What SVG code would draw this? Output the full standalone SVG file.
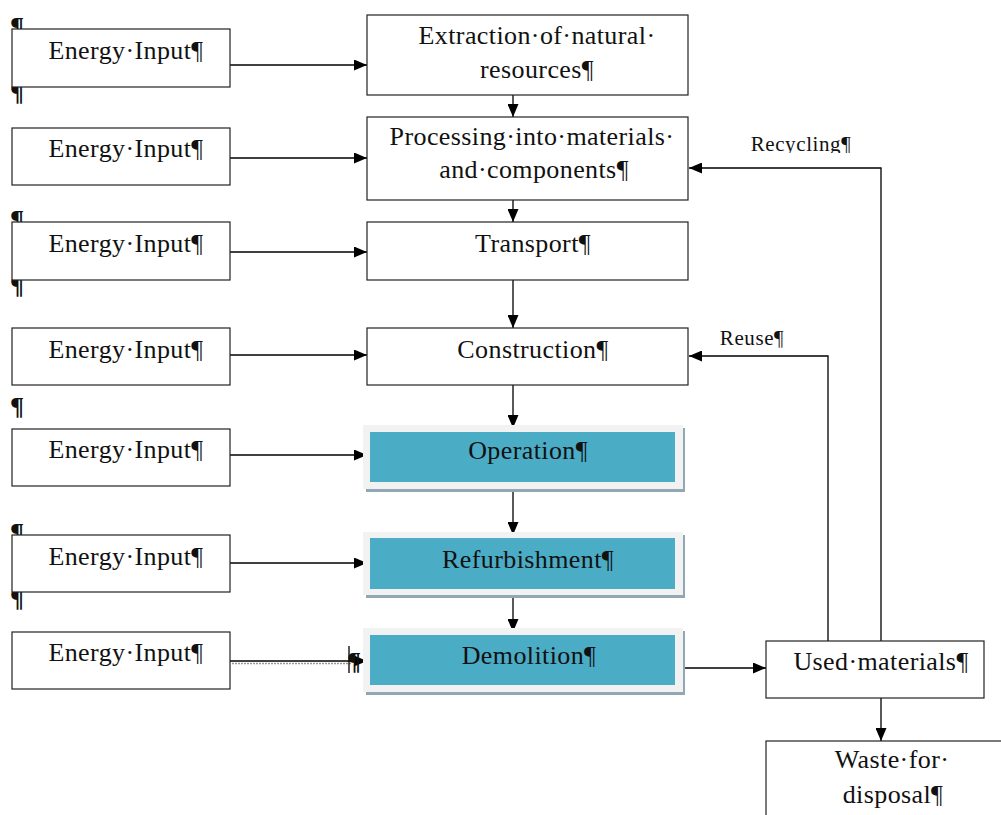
<svg xmlns="http://www.w3.org/2000/svg" width="1001" height="815" viewBox="0 0 1001 815">
  <style>
    .box { fill: #ffffff; stroke: #222222; stroke-width: 1.2; }
    .frame { fill: #f2f2f2; }
    .shadow { fill: #8fa8b3; }
    .teal { fill: #4bacc6; }
    .lbl { font-family: "Liberation Serif", "Times New Roman", serif; font-size: 26px; letter-spacing: 0.4px; fill: #111111; text-anchor: middle; }
    .small { font-family: "Liberation Serif", "Times New Roman", serif; font-size: 21px; letter-spacing: 0.6px; fill: #111111; text-anchor: middle; }
    .pil { font-family: "Liberation Serif", "Times New Roman", serif; font-size: 26px; font-weight: bold; fill: #111111; }
    .wire { fill: none; stroke: #000000; stroke-width: 1.3; }
  </style>
  <defs>
    <marker id="arrow" viewBox="0 0 13 11" refX="13" refY="5.5" markerWidth="13" markerHeight="11" markerUnits="userSpaceOnUse" orient="auto">
      <path d="M0,0 L13,5.5 L0,11 z" fill="#000000"/>
    </marker>
    <clipPath id="clipRecycle">
      <rect x="700" y="120" width="200" height="33"/>
    </clipPath>
  </defs>

  <rect width="1001" height="815" fill="#ffffff"/>

  <!-- stray paragraph marks, partly behind the energy boxes -->
  <g id="marks">
    <text class="pil" x="10" y="35">¶</text>
    <text class="pil" x="10" y="101">¶</text>
    <text class="pil" x="10" y="228">¶</text>
    <text class="pil" x="10" y="294">¶</text>
    <text class="pil" x="10" y="415">¶</text>
    <text class="pil" x="10" y="541">¶</text>
    <text class="pil" x="10" y="607">¶</text>
  </g>

  <!-- connectors -->
  <g id="connectors">
    <!-- energy inputs -->
    <line class="wire" x1="230" y1="65" x2="367" y2="65" marker-end="url(#arrow)"/>
    <line class="wire" x1="230" y1="158" x2="367" y2="158" marker-end="url(#arrow)"/>
    <line class="wire" x1="230" y1="252" x2="367" y2="252" marker-end="url(#arrow)"/>
    <line class="wire" x1="230" y1="355" x2="367" y2="355" marker-end="url(#arrow)"/>
    <line class="wire" x1="230" y1="455" x2="367" y2="455" marker-end="url(#arrow)"/>
    <line class="wire" x1="230" y1="563" x2="367" y2="563" marker-end="url(#arrow)"/>
    <line class="wire" x1="230" y1="661" x2="367" y2="661" marker-end="url(#arrow)"/>
    <line x1="232" y1="663.5" x2="352" y2="663.5" stroke="#9a9a9a" stroke-width="1.5" stroke-dasharray="2 1"/>
    <line x1="349" y1="646" x2="349" y2="673" stroke="#000000" stroke-width="1.3"/>
    <!-- life-cycle chain -->
    <line class="wire" x1="513" y1="95" x2="513" y2="117" marker-end="url(#arrow)"/>
    <line class="wire" x1="513" y1="200" x2="513" y2="222" marker-end="url(#arrow)"/>
    <line class="wire" x1="513" y1="280" x2="513" y2="328" marker-end="url(#arrow)"/>
    <line class="wire" x1="513" y1="385" x2="513" y2="428" marker-end="url(#arrow)"/>
    <line class="wire" x1="513" y1="492" x2="513" y2="535" marker-end="url(#arrow)"/>
    <line class="wire" x1="513" y1="598" x2="513" y2="632" marker-end="url(#arrow)"/>
    <!-- end of life -->
    <line class="wire" x1="680" y1="668" x2="766" y2="668" marker-end="url(#arrow)"/>
    <line class="wire" x1="881" y1="698" x2="881" y2="741" marker-end="url(#arrow)"/>
    <polyline class="wire" points="881,641 881,168 689,168" marker-end="url(#arrow)"/>
    <polyline class="wire" points="828,641 828,356 689,356" marker-end="url(#arrow)"/>
  </g>

  <!-- energy input nodes -->
  <g id="energy1"><rect class="box" x="12" y="29" width="218" height="58"/><text class="lbl" x="126" y="59">Energy·Input¶</text></g>
  <g id="energy2"><rect class="box" x="12" y="128" width="218" height="57"/><text class="lbl" x="126" y="157">Energy·Input¶</text></g>
  <g id="energy3"><rect class="box" x="12" y="222" width="218" height="58"/><text class="lbl" x="126" y="252">Energy·Input¶</text></g>
  <g id="energy4"><rect class="box" x="12" y="328" width="218" height="57"/><text class="lbl" x="126" y="358">Energy·Input¶</text></g>
  <g id="energy5"><rect class="box" x="12" y="429" width="218" height="57"/><text class="lbl" x="126" y="458">Energy·Input¶</text></g>
  <g id="energy6"><rect class="box" x="12" y="535" width="218" height="57"/><text class="lbl" x="126" y="565">Energy·Input¶</text></g>
  <g id="energy7"><rect class="box" x="12" y="632" width="218" height="57"/><text class="lbl" x="126" y="661">Energy·Input¶</text></g>

  <!-- life-cycle stages -->
  <g id="extraction">
    <rect class="box" x="367" y="15" width="321" height="80"/>
    <text class="lbl" x="537" y="44">Extraction·of·natural·</text>
    <text class="lbl" x="537" y="78">resources¶</text>
  </g>
  <g id="processing">
    <rect class="box" x="367" y="117" width="321" height="83"/>
    <text class="lbl" x="532" y="145">Processing·into·materials·</text>
    <text class="lbl" x="534" y="178">and·components¶</text>
  </g>
  <g id="transport">
    <rect class="box" x="367" y="222" width="321" height="58"/>
    <text class="lbl" x="533" y="252">Transport¶</text>
  </g>
  <g id="construction">
    <rect class="box" x="367" y="328" width="321" height="57"/>
    <text class="lbl" x="533" y="358">Construction¶</text>
  </g>
  <g id="operation">
    <rect class="shadow" x="366" y="428" width="319" height="64"/>
    <rect class="frame" x="363" y="425" width="320" height="64"/>
    <rect class="teal" x="370" y="432" width="305" height="50"/>
    <text class="lbl" x="528" y="459">Operation¶</text>
  </g>
  <g id="refurbishment">
    <rect class="shadow" x="366" y="535" width="319" height="63"/>
    <rect class="frame" x="363" y="532" width="320" height="63"/>
    <rect class="teal" x="370" y="538" width="305" height="51"/>
    <text class="lbl" x="528" y="568">Refurbishment¶</text>
  </g>
  <g id="demolition">
    <rect class="shadow" x="366" y="631" width="319" height="64"/>
    <rect class="frame" x="363" y="628" width="320" height="64"/>
    <rect class="teal" x="370" y="635" width="305" height="50"/>
    <text class="lbl" x="529" y="664">Demolition¶</text>
  </g>
  <g id="used-materials">
    <rect class="box" x="766" y="641" width="218" height="57"/>
    <text class="lbl" x="881" y="670">Used·materials¶</text>
  </g>
  <g id="waste">
    <rect class="box" x="766" y="741" width="245" height="80"/>
    <text class="lbl" x="892" y="768">Waste·for·</text>
    <text class="lbl" x="893" y="803">disposal¶</text>
  </g>

  <!-- connector labels -->
  <g id="labels">
    <text class="small" x="801" y="151" clip-path="url(#clipRecycle)">Recycling¶</text>
    <text class="small" x="752" y="345">Reuse¶</text>
    <text class="pil" x="347" y="670" font-size="20">¶</text>
  </g>
</svg>
